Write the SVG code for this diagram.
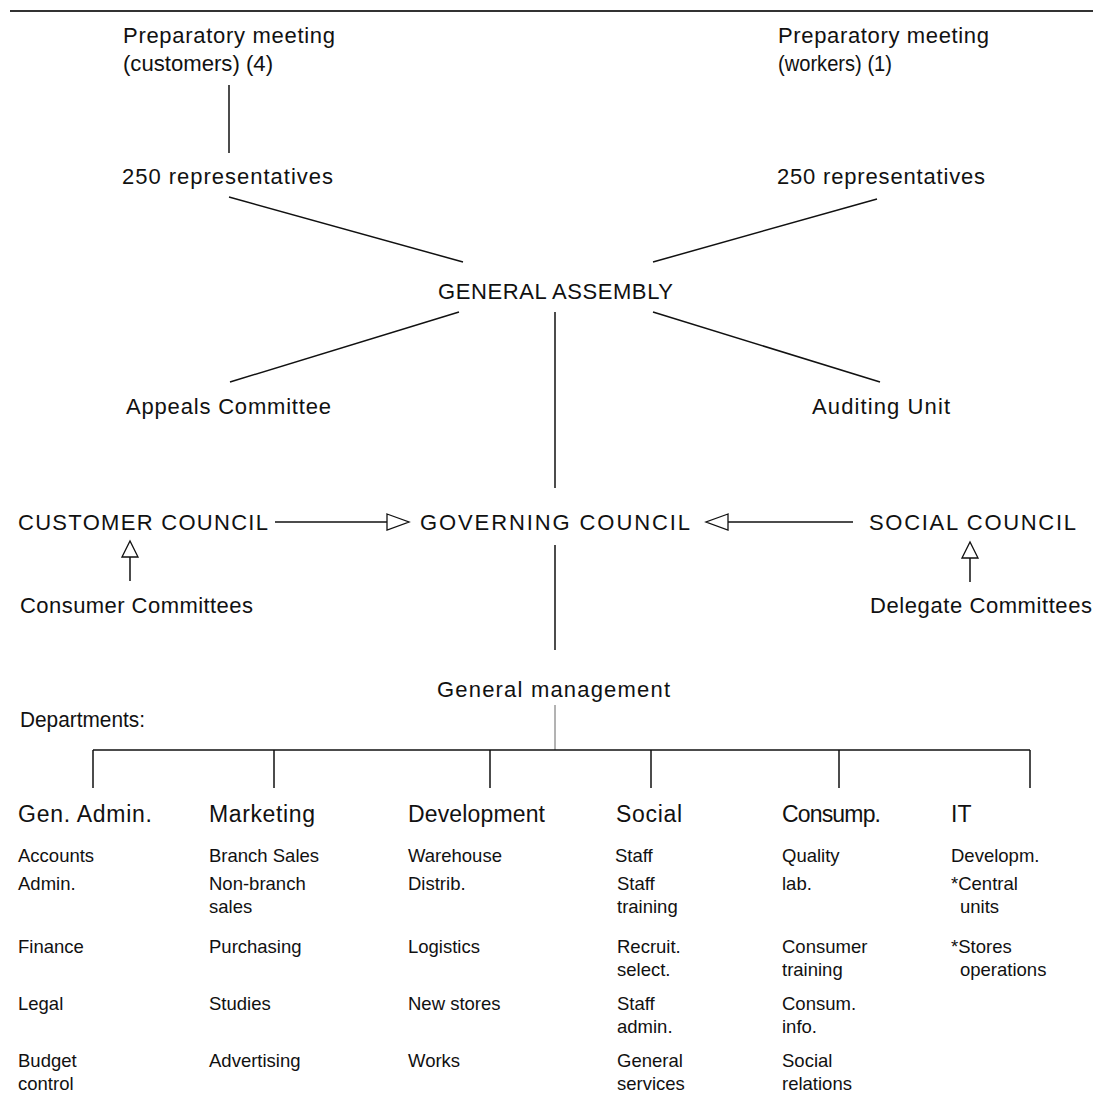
<svg xmlns="http://www.w3.org/2000/svg" width="1093" height="1102" viewBox="0 0 1093 1102">
<style>
text{font-family:"Liberation Sans",Arial,sans-serif;fill:#111}
.l{font-size:22px}
.h{font-size:23px}
.s{font-size:18.5px}
.c{stroke:#111;stroke-width:1.5;fill:none}
.t{stroke:#666;stroke-width:1;fill:none}
.a{stroke:#111;stroke-width:1.3;fill:#fff}
</style>
<rect width="1093" height="1102" fill="#fff"/>
<line x1="10" y1="11" x2="1093" y2="11" stroke="#333" stroke-width="2"/>
<g id="connectors">
<line class="c" x1="229" y1="85" x2="229" y2="153"/>
<line class="c" x1="229" y1="197" x2="463" y2="262"/>
<line class="c" x1="877" y1="199" x2="653" y2="262"/>
<line class="c" x1="459" y1="312" x2="230" y2="382"/>
<line class="c" x1="653" y1="312" x2="880" y2="382"/>
<line class="c" x1="555" y1="312" x2="555" y2="488"/>
<line class="c" x1="555" y1="545" x2="555" y2="650"/>
<line class="c" x1="275" y1="522" x2="387" y2="522"/>
<polygon class="a" points="387,514 409,522 387,530"/>
<line class="c" x1="853" y1="522" x2="728" y2="522"/>
<polygon class="a" points="728,514 706,522 728,530"/>
<line class="c" x1="130" y1="557" x2="130" y2="581"/>
<polygon class="a" points="122,557 130,541 138,557"/>
<line class="c" x1="970" y1="558" x2="970" y2="582"/>
<polygon class="a" points="962,558 970,542 978,558"/>
<line class="t" x1="555" y1="705" x2="555" y2="750"/>
<line class="c" x1="93" y1="750" x2="1030" y2="750"/>
<line class="c" x1="93" y1="750" x2="93" y2="788"/>
<line class="c" x1="274" y1="750" x2="274" y2="788"/>
<line class="c" x1="490" y1="750" x2="490" y2="788"/>
<line class="c" x1="651" y1="750" x2="651" y2="788"/>
<line class="c" x1="839" y1="750" x2="839" y2="788"/>
<line class="c" x1="1030" y1="750" x2="1030" y2="788"/>
</g>
<g id="prep-customers"><text class="l" x="123" y="43" textLength="212">Preparatory meeting</text><text class="l" x="123" y="71" textLength="150" lengthAdjust="spacingAndGlyphs">(customers) (4)</text></g>
<g id="prep-workers"><text class="l" x="778" y="43" textLength="211">Preparatory meeting</text><text class="l" x="778" y="71" textLength="114" lengthAdjust="spacingAndGlyphs">(workers) (1)</text></g>
<g id="reps-left"><text class="l" x="122" y="184" textLength="211">250 representatives</text></g>
<g id="reps-right"><text class="l" x="777" y="184" textLength="208">250 representatives</text></g>
<g id="general-assembly"><text class="l" x="438" y="299" textLength="235">GENERAL ASSEMBLY</text></g>
<g id="appeals"><text class="l" x="126" y="414" textLength="205">Appeals Committee</text></g>
<g id="auditing"><text class="l" x="812" y="414" textLength="138">Auditing Unit</text></g>
<g id="customer-council"><text class="l" x="18" y="530" textLength="250">CUSTOMER COUNCIL</text></g>
<g id="governing-council"><text class="l" x="420" y="530" textLength="270">GOVERNING COUNCIL</text></g>
<g id="social-council"><text class="l" x="869" y="530" textLength="207">SOCIAL COUNCIL</text></g>
<g id="consumer-committees"><text class="l" x="20" y="613" textLength="233">Consumer Committees</text></g>
<g id="delegate-committees"><text class="l" x="870" y="613" textLength="222">Delegate Committees</text></g>
<g id="general-management"><text class="l" x="437" y="697" textLength="233">General management</text></g>
<g id="departments-label"><text class="l" x="20" y="727" textLength="125" lengthAdjust="spacingAndGlyphs">Departments:</text></g>
<g id="dept-genadmin">
<text class="h" x="18" y="822" textLength="134">Gen. Admin.</text>
<text class="s" x="18" y="862">Accounts</text>
<text class="s" x="18" y="890">Admin.</text>
<text class="s" x="18" y="953">Finance</text>
<text class="s" x="18" y="1010">Legal</text>
<text class="s" x="18" y="1067">Budget</text>
<text class="s" x="18" y="1090">control</text>
</g>
<g id="dept-marketing">
<text class="h" x="209" y="822" textLength="106">Marketing</text>
<text class="s" x="209" y="862">Branch Sales</text>
<text class="s" x="209" y="890">Non-branch</text>
<text class="s" x="209" y="913">sales</text>
<text class="s" x="209" y="953">Purchasing</text>
<text class="s" x="209" y="1010">Studies</text>
<text class="s" x="209" y="1067">Advertising</text>
</g>
<g id="dept-development">
<text class="h" x="408" y="822" textLength="137">Development</text>
<text class="s" x="408" y="862">Warehouse</text>
<text class="s" x="408" y="890">Distrib.</text>
<text class="s" x="408" y="953">Logistics</text>
<text class="s" x="408" y="1010">New stores</text>
<text class="s" x="408" y="1067">Works</text>
</g>
<g id="dept-social">
<text class="h" x="616" y="822" textLength="66">Social</text>
<text class="s" x="615" y="862">Staff</text>
<text class="s" x="617" y="890">Staff</text>
<text class="s" x="617" y="913">training</text>
<text class="s" x="617" y="953">Recruit.</text>
<text class="s" x="617" y="976">select.</text>
<text class="s" x="617" y="1010">Staff</text>
<text class="s" x="617" y="1033">admin.</text>
<text class="s" x="617" y="1067">General</text>
<text class="s" x="617" y="1090">services</text>
</g>
<g id="dept-consump">
<text class="h" x="782" y="822" textLength="99">Consump.</text>
<text class="s" x="782" y="862">Quality</text>
<text class="s" x="782" y="890">lab.</text>
<text class="s" x="782" y="953">Consumer</text>
<text class="s" x="782" y="976">training</text>
<text class="s" x="782" y="1010">Consum.</text>
<text class="s" x="782" y="1033">info.</text>
<text class="s" x="782" y="1067">Social</text>
<text class="s" x="782" y="1090">relations</text>
</g>
<g id="dept-it">
<text class="h" x="951" y="822">IT</text>
<text class="s" x="951" y="862">Developm.</text>
<text class="s" x="951" y="890">*Central</text>
<text class="s" x="960" y="913">units</text>
<text class="s" x="951" y="953">*Stores</text>
<text class="s" x="960" y="976">operations</text>
</g>
</svg>
